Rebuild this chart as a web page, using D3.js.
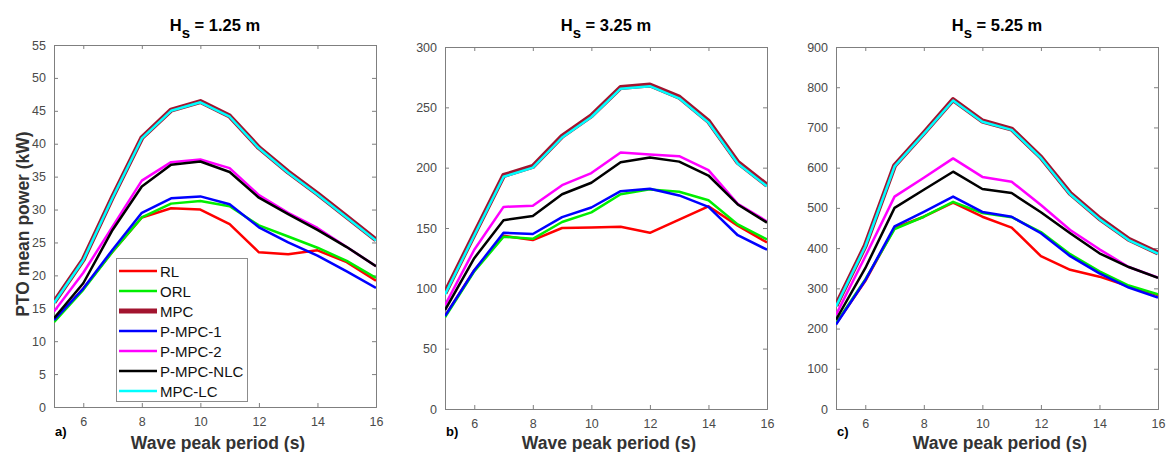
<!DOCTYPE html>
<html><head><meta charset="utf-8">
<script src="https://cdn.jsdelivr.net/npm/d3@7"></script>
<style>body{margin:0;background:#fff;}svg{display:block;font-family:"Liberation Sans",Arial,sans-serif;}</style>
</head><body><svg id="c" width="1167" height="452"></svg>
<script>
const periods = [5,6,7,8,9,10,11,12,13,14,15,16];
const xTicks = [6,8,10,12,14,16];
const seriesNames = ["RL","ORL","MPC","P-MPC-1","P-MPC-2","P-MPC-NLC","MPC-LC"];
const seriesColors = ["#ff0000","#00ee00","#a2142f","#0000ff","#ff00ff","#000000","#00ffff"];
const seriesWidths = [2.5,2.5,5,2.5,2.5,2.5,2.5];
const panelTitles = ["1.25","3.25","5.25"];
const panelLetters = ["a)","b)","c)"];
const yMax = [55,300,900];
const yTickStep = [5,50,100];

// Panel a: Hs = 1.25 m
const a_RL   = [13.0,18.0,23.6,28.8,30.2,30.0,27.8,23.5,23.2,23.8,22.0,19.2];
const a_ORL  = [12.9,17.8,23.6,28.8,30.9,31.3,30.5,27.6,25.9,24.2,22.2,19.6];
const a_MPC  = [15.9,22.4,31.9,40.9,45.1,46.4,44.2,39.4,35.7,32.4,28.9,25.4];
const a_PM1  = [13.2,18.0,23.9,29.5,31.7,32.0,30.8,27.3,25.0,23.0,20.6,18.1];
const a_PM2  = [14.5,20.4,27.4,34.4,37.2,37.6,36.3,32.2,29.5,27.2,24.3,21.4];
const a_NLC  = [13.5,18.8,26.9,33.5,36.8,37.3,35.7,31.8,29.3,26.9,24.3,21.4];
const a_LC   = [15.8,22.3,31.8,40.8,45.0,46.3,44.1,39.3,35.6,32.3,28.8,25.3];

// Panel b: Hs = 3.25 m
const b_RL   = [77,115,143.5,140,150,150.5,151,146,157,168,152,138];
const b_ORL  = [76,114,142.8,141,155,163,178,182,180,173,153,140.5];
const b_MPC  = [96,145,193.5,201,226,243,266.5,268.5,258.5,238.5,204.5,185.5];
const b_PM1  = [77,115,146,145,159,167,180.5,182.5,177,167.5,144,132];
const b_PM2  = [86,132,167.5,168.5,185.5,195.5,212.5,211,209.5,198,170,155.5];
const b_NLC  = [82,125,156.5,160,178,187.5,204.5,208.5,205,193.5,169.5,154.5];
const b_LC   = [95,144,192.5,200,225,242,265.5,267.5,257.5,237.5,203.5,184.5];

// Panel c: Hs = 5.25 m
const c_RL   = [212,318,450,478,513,478,451,380,346,329,305,283];
const c_ORL  = [213,322,447,478,515,487,477,440,385,342,307,285];
const c_MPC  = [257,406,605,686,769,716,696,626,536,474,422,388];
const c_PM1  = [210,320,454,490,528,490,478,437,380,337,302,277];
const c_PM2  = [234,379,528,575,623,577,565,507,445,397,353,327];
const c_NLC  = [222,350,500,545,590,547,537,489,437,387,353,326];
const c_LC   = [255,404,603,684,767,714,694,624,534,472,420,386];

const panelData = [
  [a_RL,a_ORL,a_MPC,a_PM1,a_PM2,a_NLC,a_LC],
  [b_RL,b_ORL,b_MPC,b_PM1,b_PM2,b_NLC,b_LC],
  [c_RL,c_ORL,c_MPC,c_PM1,c_PM2,c_NLC,c_LC]
];

const svg = d3.select("#c");
const boxes = [
  {l:54,r:376,t:45,b:407},
  {l:445,r:767,t:47,b:409},
  {l:836,r:1158,t:47,b:409}
];
const axisColor = "#7f7f7f";
const tickTextColor = "#4a4a4a";

boxes.forEach((bx,pi)=>{
  const g = svg.append("g");
  const x = d3.scaleLinear().domain([5,16]).range([bx.l,bx.r]);
  const y = d3.scaleLinear().domain([0,yMax[pi]]).range([bx.b,bx.t]);
  const yTicks = d3.range(0,yMax[pi]+0.001,yTickStep[pi]);
  const w = bx.r-bx.l, h = bx.b-bx.t;

  const ax = d3.axisBottom(x).tickValues(xTicks).tickSize(-4).tickPadding(10).tickFormat(d3.format("d"));
  const gx = g.append("g").attr("transform",`translate(0,${bx.b})`).call(ax);
  const axT = d3.axisTop(x).tickValues(xTicks).tickSize(-4).tickFormat("");
  const gxt = g.append("g").attr("transform",`translate(0,${bx.t})`).call(axT);
  const ay = d3.axisLeft(y).tickValues(yTicks).tickSize(-4).tickPadding(8).tickFormat(d3.format("d"));
  const gy = g.append("g").attr("transform",`translate(${bx.l},0)`).call(ay);
  const ayR = d3.axisRight(y).tickValues(yTicks).tickSize(-4).tickFormat("");
  const gyr = g.append("g").attr("transform",`translate(${bx.r},0)`).call(ayR);
  [gx,gxt,gy,gyr].forEach(a=>{
    a.select(".domain").attr("stroke",axisColor);
    a.selectAll(".tick line").attr("stroke",axisColor);
    a.selectAll("text").attr("fill",tickTextColor).style("font-size","12.5px").style("font-family","'Liberation Sans',Arial,sans-serif");
  });

  const line = d3.line().x((d,i)=>x(periods[i])).y(d=>y(d));
  const clipId = "clip"+pi;
  svg.append("clipPath").attr("id",clipId).append("rect").attr("x",bx.l).attr("y",bx.t).attr("width",w).attr("height",h);
  const lg = g.append("g").attr("clip-path",`url(#${clipId})`);
  panelData[pi].forEach((vals,si)=>{
    lg.append("path").datum(vals).attr("d",line)
      .attr("fill","none").attr("stroke",seriesColors[si])
      .attr("stroke-width",seriesWidths[si]).attr("stroke-linejoin","round");
  });

  const cx = (bx.l+bx.r)/2;
  const title = g.append("text").attr("x",cx).attr("y",31).attr("text-anchor","middle")
    .style("font-weight","bold").style("font-size","16.5px").attr("fill","#000");
  title.append("tspan").text("H");
  title.append("tspan").text("s").attr("dy",7).style("font-size","15px");
  title.append("tspan").text(" = "+panelTitles[pi]+" m").attr("dy",-7);

  g.append("text").attr("x",cx+3).attr("y",449).attr("text-anchor","middle")
    .style("font-weight","bold").style("font-size","17.5px").attr("fill","#333")
    .text("Wave peak period (s)");
  g.append("text").attr("x",bx.l+1).attr("y",436)
    .style("font-weight","bold").style("font-size","13px").attr("fill","#000")
    .text(panelLetters[pi]);
});

svg.append("text").attr("transform","translate(29,224) rotate(-90)").attr("text-anchor","middle")
  .style("font-weight","bold").style("font-size","17.5px").attr("fill","#333")
  .text("PTO mean power (kW)");

const leg = svg.append("g");
leg.append("rect").attr("x",116.5).attr("y",258.5).attr("width",131).attr("height",143)
  .attr("fill","#fff").attr("stroke","#8c8c8c").attr("stroke-width",1);
seriesNames.forEach((nm,i)=>{
  const yy = 271 + i*20;
  leg.append("line").attr("x1",119).attr("x2",157).attr("y1",yy).attr("y2",yy)
    .attr("stroke",seriesColors[i]).attr("stroke-width",seriesWidths[i]);
  leg.append("text").attr("x",160).attr("y",yy+5.5).style("font-size","15px").attr("fill","#111").text(nm);
});
</script></body></html>
